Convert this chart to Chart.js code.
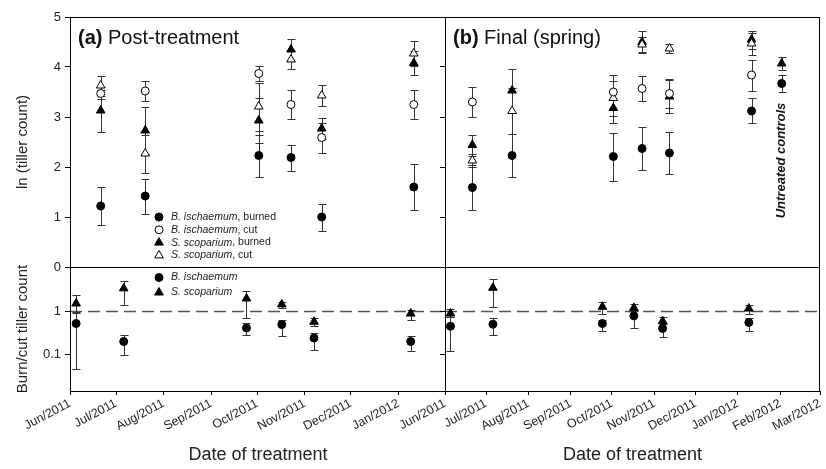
<!DOCTYPE html>
<html>
<head>
<meta charset="utf-8">
<script src="https://cdn.jsdelivr.net/npm/chart.js@4.4.1/dist/chart.umd.min.js"></script>
<style>
body { margin: 0; background: #fff; }
#wrap { position: relative; width: 826px; height: 469px; }
canvas { position: absolute; top: 0; }
</style>
</head>
<body>
<div id="wrap">
<canvas id="chartA" width="452" height="469" style="left:0"></canvas>
<canvas id="chartB" width="446" height="469" style="left:380px"></canvas>
</div>
<script>
var FONT = '"Liberation Sans", Arial, sans-serif';

var monthLabels = ['Jun/2011', 'Jul/2011', 'Aug/2011', 'Sep/2011', 'Oct/2011', 'Nov/2011', 'Dec/2011', 'Jan/2012', 'Feb/2012', 'Mar/2012'];
var monthStarts = ['2011-06-01', '2011-07-01', '2011-08-01', '2011-09-01', '2011-10-01', '2011-11-01', '2011-12-01', '2012-01-01', '2012-02-01', '2012-03-01'];
var sampleDates = ['2011-06-21', '2011-07-20', '2011-10-02', '2011-10-23', '2011-11-12', '2012-01-11'];
var treatDates = ['2011-06-05', '2011-07-06', '2011-09-24', '2011-10-17', '2011-11-07', '2012-01-09'];
var controlDate = ['2012-02-02'];

// (a) post-treatment: ln(tiller count), mean and error
var aBiBurned = [1.22, 1.42, 2.23, 2.19, 1.00, 1.60];
var aBiBurnedErr = [0.38, 0.35, 0.42, 0.26, 0.27, 0.46];
var aBiCut = [3.47, 3.52, 3.87, 3.25, 2.59, 3.25];
var aBiCutErr = [0.12, 0.20, 0.15, 0.29, 0.30, 0.29];
var aSsBurned = [3.13, 2.73, 2.93, 4.35, 2.77, 4.08];
var aSsBurnedErr = [0.42, 0.47, 0.45, 0.22, 0.20, 0.23];
var aSsCut = [3.63, 2.27, 3.21, 4.15, 3.43, 4.27];
var aSsCutErr = [0.20, 0.38, 0.48, 0.18, 0.21, 0.25];
// (a) burn/cut ratio with lower and upper limits
var aBiRatio = [0.52, 0.20, 0.41, 0.49, 0.24, 0.20];
var aBiRatioLo = [0.046, 0.096, 0.28, 0.27, 0.13, 0.12];
var aBiRatioHi = [0.92, 0.28, 0.52, 0.62, 0.32, 0.265];
var aSsRatio = [1.50, 3.35, 1.96, 1.43, 0.57, 0.88];
var aSsRatioLo = [0.95, 1.38, 0.68, 1.19, 0.46, 0.64];
var aSsRatioHi = [2.34, 4.93, 2.94, 1.64, 0.68, 1.05];

// (b) final (spring)
var bBiBurned = [1.59, 2.23, 2.21, 2.37, 2.28, 3.12];
var bBiBurnedErr = [0.45, 0.43, 0.48, 0.42, 0.42, 0.25];
var bBiCut = [3.30, null, 3.50, 3.57, 3.47, 3.84];
var bBiCutErr = [0.30, null, 0.35, 0.25, 0.30, 0.31];
var bSsBurned = [2.44, 3.53, 3.18, 4.50, 3.41, 4.55];
var bSsBurnedErr = [0.21, 0.44, 0.31, 0.22, 0.33, 0.18];
var bSsCut = [2.13, 3.12, 3.38, 4.45, 4.37, 4.47];
var bSsCutErr = [0.13, 0.45, 0.35, 0.15, 0.09, 0.22];
var bBiRatio = [0.45, 0.50, 0.52, 0.78, 0.40, 0.55];
var bBiRatioLo = [0.12, 0.29, 0.345, 0.40, 0.25, 0.35];
var bBiRatioHi = [0.75, 0.68, 0.62, 1.05, 0.52, 0.68];
var bSsRatio = [0.88, 3.45, 1.26, 1.19, 0.59, 1.15];
var bSsRatioLo = [0.72, 1.22, 0.84, 1.00, 0.50, 0.88];
var bSsRatioHi = [1.15, 5.40, 1.59, 1.45, 0.72, 1.38];
// untreated controls
var ctrlBiBurned = [3.67];
var ctrlBiBurnedErr = [0.17];
var ctrlSsBurned = [4.07];
var ctrlSsBurnedErr = [0.13];

function day(s) {
    return (Date.parse(s) - Date.parse(monthStarts[0])) / 86400000;
}

function sym(dates, vals, errs) {
    var out = [];
    vals.forEach(function (v, i) {
        if (v === null) return;
        out.push({x: day(dates[i]), y: v, lo: v - errs[i], hi: v + errs[i]});
    });
    return out;
}

function ratio(dates, vals, lo, hi) {
    return vals.map(function (v, i) {
        return {x: day(dates[i]), y: v, lo: lo[i], hi: hi[i]};
    });
}

var marks = {
    fc: {style: 'circle', r: 4, bg: '#000'},
    oc: {style: 'circle', r: 4, bg: '#fff'},
    ft: {style: 'triangle', r: 5, bg: '#000'},
    ot: {style: 'triangle', r: 5, bg: '#fff'}
};

function ds(mark, data, axis) {
    var m = marks[mark];
    return {
        data: data,
        yAxisID: axis,
        showLine: false,
        clip: false,
        pointStyle: m.style,
        pointRadius: m.r,
        pointBackgroundColor: m.bg,
        pointBorderColor: '#000',
        pointBorderWidth: 1
    };
}

function drawMark(ctx, mark, x, y) {
    var m = marks[mark];
    ctx.beginPath();
    if (m.style === 'circle') {
        ctx.arc(x, y, m.r, 0, Math.PI * 2);
    } else {
        ctx.moveTo(x, y - m.r);
        ctx.lineTo(x + 0.866 * m.r, y + 0.5 * m.r);
        ctx.lineTo(x - 0.866 * m.r, y + 0.5 * m.r);
        ctx.closePath();
    }
    ctx.fillStyle = m.bg;
    ctx.fill();
    ctx.lineWidth = 1;
    ctx.strokeStyle = '#000';
    ctx.stroke();
}

// error bars + dashed line at ratio 1, drawn under the markers
var errorBars = {
    id: 'errorBars',
    beforeDatasetsDraw: function (chart) {
        var ctx = chart.ctx, a = chart.chartArea;
        ctx.save();
        var y1 = Math.round(chart.scales.yBot.getPixelForValue(1)) + 0.5;
        ctx.strokeStyle = '#555';
        ctx.lineWidth = 1.5;
        ctx.setLineDash([12, 6]);
        ctx.beginPath();
        ctx.moveTo(a.left, y1);
        ctx.lineTo(a.right, y1);
        ctx.stroke();
        ctx.setLineDash([]);
        ctx.strokeStyle = '#333';
        ctx.lineWidth = 1;
        chart.data.datasets.forEach(function (d, i) {
            var meta = chart.getDatasetMeta(i);
            var xs = chart.scales[meta.xAxisID], ys = chart.scales[meta.yAxisID];
            d.data.forEach(function (p) {
                if (p.lo === undefined) return;
                var x = Math.round(xs.getPixelForValue(p.x)) + 0.5;
                var lo = Math.round(ys.getPixelForValue(p.lo)) + 0.5;
                var hi = Math.round(ys.getPixelForValue(p.hi)) + 0.5;
                ctx.beginPath();
                ctx.moveTo(x, lo); ctx.lineTo(x, hi);
                ctx.moveTo(x - 4, lo); ctx.lineTo(x + 4, lo);
                ctx.moveTo(x - 4, hi); ctx.lineTo(x + 4, hi);
                ctx.stroke();
            });
        });
        ctx.restore();
    }
};

function legendRow(ctx, mark, name, rest, x, y) {
    drawMark(ctx, mark, x, y);
    ctx.fillStyle = '#222';
    ctx.textBaseline = 'middle';
    ctx.textAlign = 'left';
    ctx.font = 'italic 10.5px ' + FONT;
    ctx.fillText(name, x + 12, y);
    var w = ctx.measureText(name).width;
    ctx.font = '10.5px ' + FONT;
    ctx.fillText(rest, x + 12 + w, y);
}

var panelDeco = {
    id: 'panelDeco',
    afterDraw: function (chart, args, opts) {
        var ctx = chart.ctx, a = chart.chartArea;
        var sep = Math.round(chart.scales.yTop.getPixelForValue(0)) + 0.5;
        ctx.save();
        ctx.strokeStyle = '#000';
        ctx.lineWidth = 1;
        ctx.strokeRect(Math.round(a.left) + 0.5, Math.round(a.top) + 0.5, Math.round(a.right - a.left) - 1, Math.round(a.bottom - a.top));
        ctx.beginPath();
        ctx.moveTo(a.left, sep);
        ctx.lineTo(a.right, sep);
        ctx.stroke();

        // panel title
        ctx.fillStyle = '#111';
        ctx.textBaseline = 'middle';
        ctx.textAlign = 'left';
        ctx.font = 'bold 20px ' + FONT;
        ctx.fillText(opts.tag, a.left + 8, a.top + 21);
        var w = ctx.measureText(opts.tag + ' ').width;
        ctx.font = '20px ' + FONT;
        ctx.fillText(opts.title, a.left + 8 + w, a.top + 21);

        if (opts.legend) {
            var top = [['fc', 'B. ischaemum', ', burned'], ['oc', 'B. ischaemum', ', cut'],
                ['ft', 'S. scoparium', ', burned'], ['ot', 'S. scoparium', ', cut']];
            top.forEach(function (r, i) {
                legendRow(ctx, r[0], r[1], r[2], a.left + 89, a.top + 200 + i * 12.8);
            });
            var bot = [['fc', 'B. ischaemum', ''], ['ft', 'S. scoparium', '']];
            bot.forEach(function (r, i) {
                legendRow(ctx, r[0], r[1], r[2], a.left + 89, sep + 10 + i * 15);
            });
        }
        if (opts.controls) {
            var cx = chart.scales.x.getPixelForValue(day(controlDate[0]));
            var cy = chart.scales.yTop.getPixelForValue(2.13);
            ctx.translate(cx, cy);
            ctx.rotate(-Math.PI / 2);
            ctx.font = 'italic bold 13px ' + FONT;
            ctx.textAlign = 'center';
            ctx.fillStyle = '#111';
            ctx.fillText(opts.controls, 0, 0);
        }
        ctx.restore();
    }
};

function panel(id, nMonths, yWidth, padRight, datasets, deco, showY) {
    return new Chart(document.getElementById(id).getContext('2d'), {
        type: 'scatter',
        data: {datasets: datasets},
        options: {
            responsive: false,
            animation: false,
            layout: {padding: {top: 17, right: padRight, left: 0, bottom: 0}},
            plugins: {legend: {display: false}, tooltip: {enabled: false}, panelDeco: deco},
            scales: {
                x: {
                    type: 'linear',
                    position: 'bottom',
                    min: 0,
                    max: day(monthStarts[nMonths]),
                    afterBuildTicks: function (s) {
                        s.ticks = monthStarts.slice(0, nMonths + (showY ? 0 : 1)).map(function (m) { return {value: day(m)}; });
                    },
                    afterFit: function (s) {
                        s.height = 78;
                        s.paddingLeft = 0;
                        s.paddingRight = 0;
                    },
                    grid: {drawOnChartArea: false, tickLength: 4, color: '#000'},
                    border: {display: false},
                    ticks: {
                        autoSkip: false, maxRotation: 28, minRotation: 28, padding: 1,
                        font: {family: FONT, size: 12.5}, color: '#222',
                        callback: function (v, i) { return monthLabels[i]; }
                    },
                    title: {display: true, text: 'Date of treatment', font: {family: FONT, size: 18}, color: '#222', padding: {top: 0, bottom: 3}}
                },
                yBot: {
                    type: 'logarithmic',
                    position: 'left',
                    stack: 'p',
                    stackWeight: 124,
                    min: 0.0145,
                    max: 10.4,
                    afterBuildTicks: function (s) { s.ticks = [{value: 0.1}, {value: 1}]; },
                    afterFit: function (s) { s.width = yWidth; },
                    grid: {drawOnChartArea: false, tickLength: 5, color: '#000'},
                    border: {display: false},
                    ticks: {display: showY, font: {family: FONT, size: 13}, color: '#222', padding: 4,
                        callback: function (v) { return String(v); }},
                    title: {display: showY, text: 'Burn/cut tiller count', font: {family: FONT, size: 15}, color: '#222', padding: {top: 14, bottom: 0}}
                },
                yTop: {
                    type: 'linear',
                    position: 'left',
                    stack: 'p',
                    stackWeight: 250,
                    min: 0,
                    max: 5,
                    afterFit: function (s) { s.width = yWidth; },
                    grid: {drawOnChartArea: false, tickLength: 5, color: '#000'},
                    border: {display: false},
                    ticks: {display: showY, stepSize: 1, font: {family: FONT, size: 13}, color: '#222', padding: 4},
                    title: {display: showY, text: 'ln (tiller count)', font: {family: FONT, size: 15}, color: '#222', padding: {top: 14, bottom: 0}}
                }
            }
        },
        plugins: [errorBars, panelDeco]
    });
}

var chartA = panel('chartA', 8, 70, 0, [
    ds('oc', sym(sampleDates, aBiCut, aBiCutErr), 'yTop'),
    ds('ot', sym(sampleDates, aSsCut, aSsCutErr), 'yTop'),
    ds('fc', sym(sampleDates, aBiBurned, aBiBurnedErr), 'yTop'),
    ds('ft', sym(sampleDates, aSsBurned, aSsBurnedErr), 'yTop'),
    ds('fc', ratio(treatDates, aBiRatio, aBiRatioLo, aBiRatioHi), 'yBot'),
    ds('ft', ratio(treatDates, aSsRatio, aSsRatioLo, aSsRatioHi), 'yBot')
], {tag: '(a)', title: 'Post-treatment', legend: true}, true);

var chartB = panel('chartB', 9, 65, 6, [
    ds('oc', sym(sampleDates, bBiCut, bBiCutErr), 'yTop'),
    ds('ot', sym(sampleDates, bSsCut, bSsCutErr), 'yTop'),
    ds('fc', sym(sampleDates, bBiBurned, bBiBurnedErr), 'yTop'),
    ds('ft', sym(sampleDates, bSsBurned, bSsBurnedErr), 'yTop'),
    ds('fc', sym(controlDate, ctrlBiBurned, ctrlBiBurnedErr), 'yTop'),
    ds('ft', sym(controlDate, ctrlSsBurned, ctrlSsBurnedErr), 'yTop'),
    ds('fc', ratio(treatDates, bBiRatio, bBiRatioLo, bBiRatioHi), 'yBot'),
    ds('ft', ratio(treatDates, bSsRatio, bSsRatioLo, bSsRatioHi), 'yBot')
], {tag: '(b)', title: 'Final (spring)', legend: false, controls: 'Untreated controls'}, false);
</script>
</body>
</html>
